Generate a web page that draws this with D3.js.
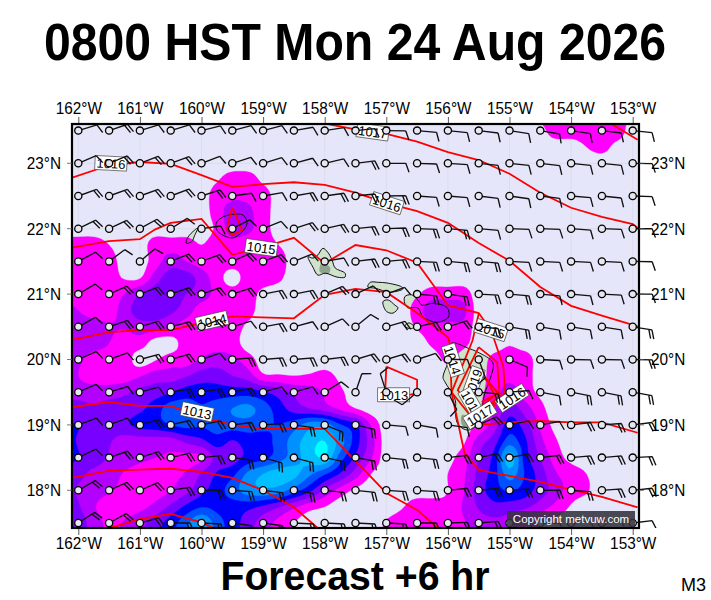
<!DOCTYPE html>
<html>
<head>
<meta charset="utf-8">
<title>Forecast</title>
<script src="https://cdnjs.cloudflare.com/ajax/libs/d3/7.8.5/d3.min.js"></script>
<style>
html, body { margin: 0; padding: 0; background: #fff; }
svg { display: block; }
text { font-family: "Liberation Sans", Arial, sans-serif; fill: #000; }
</style>
</head>
<body>
<svg id="chart" width="711" height="600"></svg>
<script>
const titleText = "0800 HST Mon 24 Aug 2026";
const subtitleText = "Forecast +6 hr";
const modelText = "M3";
const copyrightText = "Copyright metvuw.com";

const lonTicks = [-162, -161, -160, -159, -158, -157, -156, -155, -154, -153];
const latTicks = [18, 19, 20, 21, 22, 23];

// wind stations, 0.5 degree spacing
const stationLons = d3.range(-162, -152.9, 0.5);
const stationLats = [23.5, 23, 22.5, 22, 21.5, 21, 20.5, 20, 19.5, 19, 18.5, 18, 17.5];

// staff angle above horizontal (degrees), one row per latitude
const windAngles = [
  [17, 19, 17, 17, 14, 15, 15, 10, 9, 6, -1, -5, -6, -7, -9, -10, -9, -7, -6],
  [23, 22, 21, 20, 21, 18, 17, 15, 13, 7, 0, -2, -4, -6, -6, -7, -6, -6, -1],
  [20, 20, 20, 21, 18, 8, 10, 10, 8, 6, 1, -4, -5, -7, -8, -7, -5, -6, -2],
  [26, 25, 29, 32, 8, 27, 22, 18, 13, 6, 2, -2, -5, -5, -2, -2, -4, -2, 0],
  [28, 37, 40, 22, 20, 24, 20, 22, 10, 7, 5, -3, -5, -5, -3, -3, -3, -3, -1],
  [31, 24, 21, 19, 19, 18, 11, 11, 23, 25, 20, -5, -8, -3, -5, -5, -5, -3, 0],
  [29, 19, 17, 15, 22, 17, 10, 15, 24, 39, 16, 13, 18, -5, -10, -10, -9, -9, -9],
  [24, 20, 15, 16, 19, 5, 5, 5, 7, 17, 17, 18, 0, -70, -23, -3, -1, -1, -1],
  [24, 17, 15, 10, 10, 12, 16, 16, 32, 71, 108, 220, -63, -5, 5, -11, -11, -11, -10],
  [20, 20, 16, 13, 12, 7, 4, -8, -22, -13, -5, -10, -8, 24, 12, 10, 7, 4, 7],
  [26, 19, 18, 13, 6, -7, -16, -15, -12, -10, -6, -6, 7, 12, 11, 7, 5, 5, 3],
  [30, 24, 23, 9, 1, -4, -7, -9, -6, -6, -4, -4, 6, 6, 4, 1, -4, 4, 6],
  [33, 29, 15, 0, -3, -8, -8, -3, -3, -3, -3, 0, 2, 5, 5, 0, 5, 5, 7]
];

// feathers on each staff
const windFeathers = [
  [1, 2, 1, 1, 1, 1, 1, 1, 1, 1, 1, 1, 1, 1, 1, 1, 1, 1, 1],
  [1, 2, 2, 2, 1, 1, 1, 1, 1, 2, 1, 1, 1, 1, 1, 1, 1, 1, 1],
  [2, 2, 2, 2, 2, 1, 1, 2, 2, 2, 2, 1, 1, 1, 1, 1, 1, 1, 1],
  [2, 2, 2, 1, 1, 1, 1, 2, 2, 2, 2, 2, 2, 1, 1, 1, 1, 1, 1],
  [1, 1, 1, 2, 2, 2, 2, 1, 1, 2, 2, 2, 2, 2, 1, 1, 1, 1, 1],
  [1, 2, 2, 2, 2, 2, 2, 2, 2, 1, 1, 2, 2, 2, 2, 1, 1, 1, 1],
  [1, 2, 2, 2, 2, 1, 2, 1, 1, 1, 2, 2, 2, 2, 2, 1, 1, 1, 2],
  [1, 1, 2, 2, 1, 2, 2, 2, 2, 2, 2, 1, 1, 1, 1, 1, 1, 1, 2],
  [1, 1, 1, 2, 2, 2, 1, 1, 1, 1, 1, 1, 1, 2, 1, 1, 2, 2, 2],
  [1, 1, 2, 2, 2, 2, 2, 2, 2, 2, 1, 1, 1, 2, 1, 1, 2, 2, 2],
  [1, 2, 2, 2, 2, 2, 2, 2, 2, 2, 2, 2, 2, 2, 2, 2, 2, 2, 2],
  [2, 2, 2, 2, 2, 2, 2, 2, 2, 2, 2, 2, 2, 2, 2, 2, 2, 2, 2],
  [2, 2, 2, 2, 2, 1, 2, 2, 2, 2, 2, 2, 2, 2, 1, 1, 1, 1, 1]
];

// rain colour class read at each node, 0.25 degree spacing from 162.25W, 23.75N
const rainLon0 = -162.25, rainLat0 = 23.75, rainStep = 0.25, rainCols = 39;
const rainGrid = [
  [0,0,0,0,0,0,0,0,0,0,0,0,0,0,0,0,0,0,0,0,0,0,0,0,0,0,0,0,0,0,0,.8,1,1,1,1,1,.3],
  [0,0,0,0,0,0,0,0,0,0,0,0,0,0,0,0,0,0,0,0,0,0,0,0,0,0,0,0,0,0,0,.2,1,1,1,1,1],
  [0,0,0,0,0,0,0,0,0,0,0,0,0,0,0,0,0,0,0,0,0,0,0,0,0,0,0,0,0,0,0,0,0,0,.5,.8,.2],
  [],
  [0,0,0,0,0,0,0,0,0,0,.4,1,1,.3],
  [0,0,0,0,0,0,0,0,0,0,1,1.3,1.3,1],
  [0,0,0,0,0,0,0,0,0,0,1,2,1.7,1],
  [0,0,0,0,0,0,0,0,0,0,.7,2,1.7,1],
  [1,1,1,.5,0,0,1,1,1,.5,1,1,1,1,.5],
  [1,1,1,1,0,0,1,2,1.5,1,1,1,1,1,1],
  [2,1,1,1,.4,.4,2,3,3,2,1,0,1,1,.7],
  [1,1,1,1,1.5,2.5,3,3,2.5,2,1.2,1,1,.2,0,0,0,0,0,0,0,0,0,.4,1,1,1],
  [2,1.5,1,1,2,3,3,2.7,2,1,1,1,.9,0,0,0,0,0,0,0,0,0,0,1,2.2,2.2,1.8],
  [2,2,2,1.6,1.6,2,2,1.6,1,1,1,1,.3,0,0,0,0,0,0,0,0,0,0,.6,1.2,1.2,1.2],
  [2,2,2,1.5,1,1,0,0,1,1,1,1,0,0,0,0,0,0,0,0,0,0,0,0,.7,1.2,.8,0,0,.4],
  [2,1.7,1,1,1,0,.4,1,1,1.6,2,1.7,1,0,0,0,0,0,0,0,0,0,0,0,0,.7,0,0,.8,1,1],
  [2,1.5,1,1,1,1.4,2,2,2.4,3,3,2.5,2,.7,.6,.5,.6,.8,.3,0,0,0,0,0,0,0,0,0,1,1.2,1],
  [2.3,2,2,2,2.3,2.8,3,3.4,4,4,4,4,4,3.6,3,2.3,2,1.4,.7,0,0,0,0,0,0,0,0,.3,1,2,1,.3],
  [3,3,2.6,3,3,3.3,4,5,5,4.6,5,5.5,5.8,5,4,3,2.5,2,1.3,.5,0,0,0,0,0,0,0,.4,1.4,3,2,.8],
  [3.5,3.5,3,3,3.3,3.8,4,4.5,4.8,4.6,5,5,5,4.7,4.5,5,6,6,4.6,3.7,1.4,0,0,0,0,0,0,.7,2,4,3,1.3,.2],
  [4,3.4,3,2.6,2,2,2,2,2.7,3.2,4,3.4,4,4.2,4.8,6,7,7.5,6,4,2,0,0,0,0,0,.3,2,3,5,3.7,1.8,.6],
  [4,3.5,3,2.4,2,1.7,1.5,1.4,1.2,1.4,2.8,3,3.8,4.2,5,6,7,7.4,5,3.3,1.6,0,0,0,0,.2,1,2.5,3.8,7,4,2.4,1,.2],
  [3,2.8,2.2,2,1.4,1.1,1.1,1.3,1.6,2.6,3.6,4.2,5.7,6.5,7,6.8,5.7,4.6,3.4,2,.5,0,0,0,0,.5,1.3,2.8,4,6,4.4,3,1.6,1,.5],
  [3,2.4,2,1.6,1.2,1,1,1.5,2.2,3.2,4,5,6,6.3,6,5,3.8,2.3,1.1,.3,0,0,0,0,0,.5,1.4,3,4,4.6,4,3,2,1,.6],
  [3,2.6,1.6,1,1,1.2,1.8,2.7,3.7,4.4,4.2,4,3.8,3.3,2.6,1.7,.9,.5,0,0,0,0,.4,1,1,.8,1.6,2.6,3.2,3,2.7,2,1.2,.4],
  [3,3,2,1.3,1.6,2.2,3,4,5.2,6.5,5,4,3,2,1.2,.5,0,0,0,0,0,.6,1,1,1,1,1.4,2,2.2,2,1.2,.6,.2],
  [3,3,2,1.3,1.6,2.2,3,4,5.2,6.5,5,4,3,2,1.2,.5,0,0,0,0,0,.6,1,1,1,1,1.4,2,2.2,2,1.2,.6,.2]
];
const rainThresholds = [0.5, 1.5, 2.5, 3.5, 4.5, 5.5, 6.5, 7.5];
const rainColors = ["#ff00ff", "#b400ff", "#7800ff", "#0000ff", "#0050ff", "#0090ff", "#00c0ff", "#00ffff"];

// isobars as [lon, lat]
const isobars = [
  [[-157.95,23.6],[-157.5,23.52],[-157,23.45],[-156.5,23.33],[-156,23.17],[-155.5,23.05],[-155,22.84],[-154.5,22.55],[-154,22.32],[-153.5,22.18],[-153,22.07],[-152.9,22]],
  [[-153.34,23.6],[-152.92,23.36]],
  [[-162.1,22.78],[-161.5,22.97],[-161,23.02],[-160.5,22.99],[-160,22.82],[-159.5,22.64],[-159,22.68],[-158.5,22.71],[-158,22.67],[-157.5,22.55],[-157,22.39],[-156.5,22.27],[-156,22.09],[-155.5,21.78],[-155,21.51],[-154.5,21.11],[-154,20.82],[-153.5,20.67],[-153,20.53],[-152.9,20.5]],
  [[-162.1,21.71],[-161.5,21.81],[-161,21.84],[-160.75,21.99],[-160.5,22.09],[-160,22.15],[-159.5,21.6],[-159,21.72],[-158.5,21.86],[-158,21.47],[-157.5,21.75],[-157,21.67],[-156.5,21.48],[-156,20.83],[-155.5,20.71],[-155.3,20.45],[-155.1,19.89],[-155.07,19.5],[-155.5,19],[-155,19.04],[-154.5,19.06],[-154,19.04],[-153.5,19.04],[-152.92,18.88]],
  [[-162.1,20.3],[-161.5,20.42],[-161,20.45],[-160.5,20.45],[-160,20.56],[-159.5,20.66],[-158.5,20.63],[-158,20.99],[-157.5,21.08],[-157,21.03],[-156.5,20.71],[-156,20.34],[-155.97,20.25],[-155.94,19.49],[-155.73,18.57],[-155.5,18.31],[-155,18.22],[-154.5,18.13],[-154.13,18.04],[-153.5,17.9],[-152.92,17.74]],
  [[-162.1,19.27],[-161.5,19.35],[-161,19.29],[-160.5,19.29],[-160,19.12],[-159.5,19],[-159,18.94],[-158.5,18.94],[-158,18.94],[-157.5,18.45],[-157,17.96],[-156.5,17.7],[-156.16,17.42]],
  [[-162.1,18.19],[-161.5,18.3],[-160.5,18.33],[-160,18.28],[-159.5,18.19],[-159,18],[-158.5,17.74],[-158.11,17.42]],
  [[-161.5,17.42],[-161,17.56],[-160.5,17.64],[-160,17.51],[-159.8,17.42]],
  [[-157,19.89],[-156.5,19.69],[-156.5,19.49],[-156.62,19.46],[-157.02,19.49],[-157,19.89]],
  [[-159.5,22.33],[-159.34,21.98],[-159.5,21.9],[-159.59,21.99],[-159.5,22.33]],
  [[-155.5,20.7],[-155.6,20.29],[-155.94,19.5],[-155.6,19.1]],
  [[-155.5,20.19],[-155.84,19.53],[-155.6,19.23]],
  [[-155.5,20.19],[-155.2,19.96],[-155.16,19.46],[-155.48,19.04]],
  [[-155.48,19.79],[-155.16,19.46],[-155.4,19.23]],
  [[-155.4,19.73],[-155.19,19.49],[-155.43,19.3]],
  [[-155.35,19.64],[-155.24,19.46],[-155.45,19.35]]
];

const isobarLabels = ["1016", "1017", "1016", "1015", "1014", "1013", "1013", "1015", "1014", "1019", "1018", "1017", "1016"];
const isobarLabelLons = [-161.47, -157.22, -156.99, -159.03, -159.83, -160.07, -156.88, -155.3, -155.92, -155.59, -155.61, -155.48, -154.96];
const isobarLabelLats = [23, 23.48, 22.39, 21.71, 20.59, 19.2, 19.46, 20.45, 19.99, 19.64, 19.32, 19.15, 19.41];
const isobarLabelAngles = [3, 8, 18, 8, -13, 12, 0, 18, 72, -70, 60, -32, -33];

// coastlines as [lon, lat]
const islands = [
  [[-159.76,22.09],[-159.65,22.18],[-159.49,22.22],[-159.33,22.21],[-159.26,22.09],[-159.34,21.95],[-159.49,21.86],[-159.65,21.9],[-159.75,21.98]],
  [[-160.25,21.78],[-160.22,21.87],[-160.11,21.98],[-160.06,22.01],[-160.11,21.9],[-160.16,21.8]],
  [[-158.27,21.57],[-158.19,21.55],[-158.11,21.6],[-158.03,21.7],[-157.95,21.64],[-157.88,21.52],[-157.83,21.4],[-157.67,21.32],[-157.67,21.26],[-157.8,21.26],[-157.99,21.32],[-158.11,21.29],[-158.19,21.41]],
  [[-157.26,21.18],[-157.13,21.18],[-156.99,21.17],[-156.75,21.11],[-156.73,21.08],[-156.94,21.03],[-157.18,21.09],[-157.3,21.11]],
  [[-157.05,20.89],[-156.97,20.91],[-156.86,20.83],[-156.81,20.79],[-156.89,20.71],[-156.99,20.73],[-157.05,20.83]],
  [[-156.7,20.96],[-156.59,20.99],[-156.49,20.91],[-156.42,20.83],[-156.24,20.86],[-156.01,20.79],[-155.99,20.65],[-156.18,20.57],[-156.4,20.65],[-156.49,20.79],[-156.65,20.79],[-156.7,20.86]],
  [[-156.7,20.51],[-156.63,20.56],[-156.55,20.5],[-156.6,20.47]],
  [[-155.94,20.25],[-155.87,20.25],[-155.69,20.18],[-155.51,20.11],[-155.27,19.95],[-155.32,19.69],[-155.4,19.49],[-155.51,19.03],[-155.67,18.92],[-155.83,19],[-155.88,19.18],[-155.88,19.38],[-156.05,19.66],[-156.08,19.73],[-156,19.95],[-155.97,20.1]]
];

// darker high ground on Oahu and the south of the Big Island
const terrainPatches = [
  [[-158.04,21.49],[-157.91,21.4],[-157.94,21.31],[-158.08,21.34]],
  [[-155.77,19.15],[-155.54,19.07],[-155.64,18.95],[-155.77,19]]
];

const width = 711, height = 600;
const frame = { left: 72, right: 639, top: 124, bottom: 528 };

const x = d3.scaleLinear().domain([-162, -153]).range([78.3, 632.7]);
const y = d3.scaleLinear().domain([18, 23]).range([490.3, 163.3]);

const svg = d3.select("#chart");

svg.append("clipPath").attr("id", "frame-clip").append("rect")
  .attr("x", frame.left).attr("y", frame.top)
  .attr("width", frame.right - frame.left).attr("height", frame.bottom - frame.top);
svg.append("clipPath").attr("id", "barb-clip").append("rect")
  .attr("x", 0).attr("y", 0).attr("width", width).attr("height", frame.bottom);

const map = svg.append("g").attr("clip-path", "url(#frame-clip)");

map.append("rect")
  .attr("x", frame.left).attr("y", frame.top)
  .attr("width", frame.right - frame.left).attr("height", frame.bottom - frame.top)
  .attr("fill", "#e6e6fa");

// graticule
map.selectAll("line.lon").data(lonTicks).join("line")
  .attr("x1", d => x(d)).attr("x2", d => x(d))
  .attr("y1", frame.top).attr("y2", frame.bottom)
  .attr("stroke", "#dcdcec").attr("stroke-width", 1);
map.selectAll("line.lat").data(latTicks).join("line")
  .attr("y1", d => y(d)).attr("y2", d => y(d))
  .attr("x1", frame.left).attr("x2", frame.right)
  .attr("stroke", "#dcdcec").attr("stroke-width", 1);

const line = d3.line().x(d => x(d[0])).y(d => y(d[1]));
const coast = d3.line().x(d => x(d[0])).y(d => y(d[1])).curve(d3.curveCatmullRomClosed);

// land goes under the rain, coastline above it
map.selectAll("path.land").data(islands).join("path")
  .attr("d", coast).attr("fill", "#cfe2cb").attr("stroke", "none");
map.selectAll("path.terrain").data(terrainPatches).join("path")
  .attr("d", coast).attr("fill", "#8ea48e").attr("stroke", "none");

// rain: upsample the node grid so the bands come out smooth
const factor = 5;
const nRows = rainGrid.length;
function node(i, j) {
  const row = rainGrid[Math.max(0, Math.min(nRows - 1, i))];
  return row[Math.max(0, Math.min(rainCols - 1, j))] || 0;
}
function cubic(a, b, c, d, t) {
  return 0.5 * (2 * b + (c - a) * t + (2 * a - 5 * b + 4 * c - d) * t * t + (3 * b - a - 3 * c + d) * t * t * t);
}
function sample(v, u) {
  const i = Math.floor(v), j = Math.floor(u), tv = v - i, tu = u - j;
  const rows = [-1, 0, 1, 2].map(di => cubic(node(i + di, j - 1), node(i + di, j), node(i + di, j + 1), node(i + di, j + 2), tu));
  return Math.max(0, cubic(rows[0], rows[1], rows[2], rows[3], tv));
}
const gridW = (rainCols - 1) * factor + 1, gridH = (nRows - 1) * factor + 1;
const fine = new Float64Array(gridW * gridH);
for (let r = 0; r < gridH; r++) {
  for (let c = 0; c < gridW; c++) {
    fine[r * gridW + c] = sample(r / factor, c / factor);
  }
}
const bands = d3.contours().size([gridW, gridH]).thresholds(rainThresholds)(fine);
const toMap = d3.geoTransform({
  point(c, r) {
    const lon = rainLon0 + rainStep * (c - 0.5) / factor;
    const lat = rainLat0 - rainStep * (r - 0.5) / factor;
    this.stream.point(x(lon), y(lat));
  }
});
const bandPath = d3.geoPath(toMap);
map.selectAll("path.rain").data(bands).join("path")
  .attr("d", bandPath)
  .attr("fill", (d, i) => rainColors[i])
  .attr("stroke", (d, i) => rainColors[i]).attr("stroke-width", 0.3);

map.selectAll("path.coast").data(islands).join("path")
  .attr("d", coast).attr("fill", "none")
  .attr("stroke", "#111").attr("stroke-width", 1);

map.selectAll("path.isobar").data(isobars).join("path")
  .attr("d", line).attr("fill", "none")
  .attr("stroke", "#ff0000").attr("stroke-width", 1.8);

// isobar labels
const labels = map.selectAll("g.isolabel").data(isobarLabels).join("g")
  .attr("transform", (d, i) => `translate(${x(isobarLabelLons[i])},${y(isobarLabelLats[i])}) rotate(${isobarLabelAngles[i]})`);
labels.append("rect")
  .attr("x", -16).attr("y", -7).attr("width", 32).attr("height", 14)
  .attr("fill", "#fff").attr("stroke", "#444").attr("stroke-width", 0.7);
labels.append("text")
  .attr("text-anchor", "middle").attr("y", 5)
  .attr("font-size", 13).text(d => d);

// wind barbs
const staffLen = 19.5, featherLen = 9.5, featherGap = 3.2;
const rad = Math.PI / 180;
const stations = [];
stationLats.forEach((lat, r) => stationLons.forEach((lon, c) => {
  stations.push({ lon, lat, angle: windAngles[r][c], feathers: windFeathers[r][c] });
}));
function barbPath(d) {
  const a = d.angle * rad, f = (d.angle - 70) * rad;
  const x0 = x(d.lon), y0 = y(d.lat);
  let p = `M${x0},${y0}L${x0 + staffLen * Math.cos(a)},${y0 - staffLen * Math.sin(a)}`;
  for (let k = 0; k < d.feathers; k++) {
    const l = staffLen - k * featherGap;
    const bx = x0 + l * Math.cos(a), by = y0 - l * Math.sin(a);
    p += `M${bx},${by}L${bx + featherLen * Math.cos(f)},${by - featherLen * Math.sin(f)}`;
  }
  return p;
}
const barbs = svg.append("g").attr("clip-path", "url(#barb-clip)");
barbs.selectAll("path").data(stations).join("path")
  .attr("d", barbPath).attr("fill", "none")
  .attr("stroke", "#111").attr("stroke-width", 1.35);
barbs.selectAll("circle").data(stations).join("circle")
  .attr("cx", d => x(d.lon)).attr("cy", d => y(d.lat)).attr("r", 3.6)
  .attr("fill", "#e6e6f0").attr("stroke", "#000").attr("stroke-width", 1.3);

// frame and ticks
svg.append("rect")
  .attr("x", frame.left).attr("y", frame.top)
  .attr("width", frame.right - frame.left).attr("height", frame.bottom - frame.top)
  .attr("fill", "none").attr("stroke", "#000").attr("stroke-width", 2.2);

const lonFmt = d => `${Math.abs(d)}°W`;
const axisTop = d3.axisTop(x).tickValues(lonTicks).tickFormat(lonFmt).tickSize(6).tickPadding(3);
const axisBottom = d3.axisBottom(x).tickValues(lonTicks).tickFormat(lonFmt).tickSize(6).tickPadding(2);
[[axisTop, frame.top - 1], [axisBottom, frame.bottom + 1]].forEach(([axis, pos]) => {
  const g = svg.append("g").attr("transform", `translate(0,${pos})`).call(axis);
  g.select(".domain").remove();
  g.selectAll("line").attr("stroke", "#333").attr("stroke-width", 0.8);
  g.selectAll("text").attr("font-size", 16.5).attr("font-family", '"Liberation Sans", Arial, sans-serif')
    .attr("fill", "#000").attr("transform", "scale(0.93,1)");
});

// left and right lat ticks
[[frame.left - 5, frame.left], [frame.right, frame.right + 5]].forEach(([x1, x2]) => {
  svg.append("g").selectAll("line").data(latTicks).join("line")
    .attr("x1", x1).attr("x2", x2)
    .attr("y1", d => y(d)).attr("y2", d => y(d))
    .attr("stroke", "#555").attr("stroke-width", 0.8);
});

const latFmt = d => `${d}°N`;
svg.selectAll("text.lat-left").data(latTicks).join("text")
  .attr("transform", d => `translate(61,${y(d) + 5.8}) scale(0.93,1)`)
  .attr("text-anchor", "end").attr("font-size", 16.5).text(latFmt);
svg.selectAll("text.lat-right").data(latTicks).join("text")
  .attr("transform", d => `translate(651,${y(d) + 5.8}) scale(0.93,1)`)
  .attr("font-size", 16.5).text(latFmt);

// titles, slightly narrowed like the original type
svg.append("text").attr("transform", "translate(355,60) scale(0.945,1)").attr("text-anchor", "middle")
  .attr("font-size", 51).attr("font-weight", "bold").text(titleText);
svg.append("text").attr("transform", "translate(355,590) scale(0.98,1)").attr("text-anchor", "middle")
  .attr("font-size", 40).attr("font-weight", "bold").text(subtitleText);
svg.append("text").attr("x", 681).attr("y", 591)
  .attr("font-size", 18).text(modelText);

// copyright
svg.append("rect").attr("x", 507).attr("y", 511).attr("width", 128).attr("height", 16)
  .attr("fill", "#33333d").attr("fill-opacity", 0.88);
svg.append("text").attr("x", 571).attr("y", 523).attr("text-anchor", "middle")
  .attr("font-size", 11.5).style("fill", "#fff").text(copyrightText);
</script>
</body>
</html>
